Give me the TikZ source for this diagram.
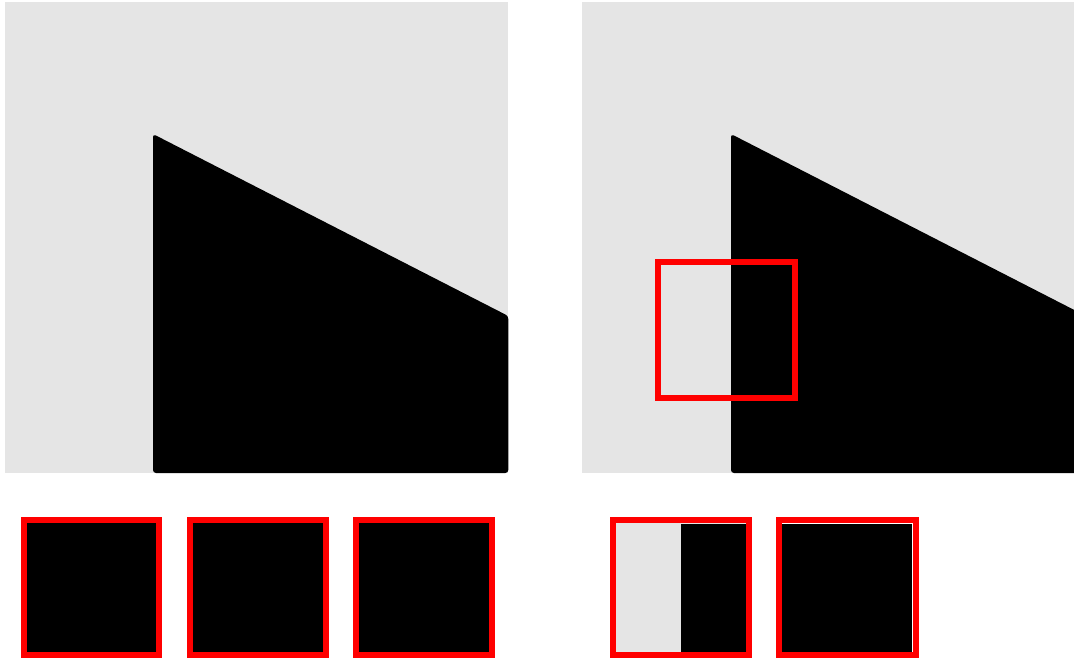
\documentclass[tikz,border=0pt]{standalone}
\definecolor{panelgray}{HTML}{E5E5E5}
\definecolor{boxred}{HTML}{FF0000}
\begin{document}
\begin{tikzpicture}[x=1pt,y=-1pt,
  panelbg/.style={fill=panelgray,draw=none},
  blackshape/.style={fill=black,draw=none,rounded corners=3pt},
  redframe/.style={draw=boxred,line width=6pt}]
\useasboundingbox (0,0) rectangle (1074,657);
\fill[white] (0,0) rectangle (1074,657);
\clip (0,0) rectangle (1074,657);
% left panel
\fill[panelbg] (5,2) rectangle (508.3,473);
\fill[blackshape] (153,473) -- (153,134) -- (508.3,316) -- (508.3,473) -- cycle;
% right panel
\fill[panelbg] (582,2) rectangle (1090,473);
\fill[blackshape] (731,473) -- (731,134) -- (1086,316) -- (1086,473) -- cycle;
\draw[redframe] (658,262) rectangle (794.5,398);
% bottom left boxes
\fill[black] (23.7,519.7) rectangle (159.3,655);
\draw[redframe] (23.7,519.7) rectangle (159.3,655);
\fill[black] (190.3,519.7) rectangle (326,655);
\draw[redframe] (190.3,519.7) rectangle (326,655);
\fill[black] (356.3,519.7) rectangle (492.3,655);
\draw[redframe] (356.3,519.7) rectangle (492.3,655);
% bottom right boxes
\fill[panelgray] (613,519.7) rectangle (749.3,655);
\fill[black] (681,524) rectangle (750,656);
\draw[redframe] (613,519.7) rectangle (749.3,655);
\fill[black] (781,524) rectangle (912,656);
\draw[redframe] (779,519.7) rectangle (915.5,655);
\end{tikzpicture}
\end{document}
